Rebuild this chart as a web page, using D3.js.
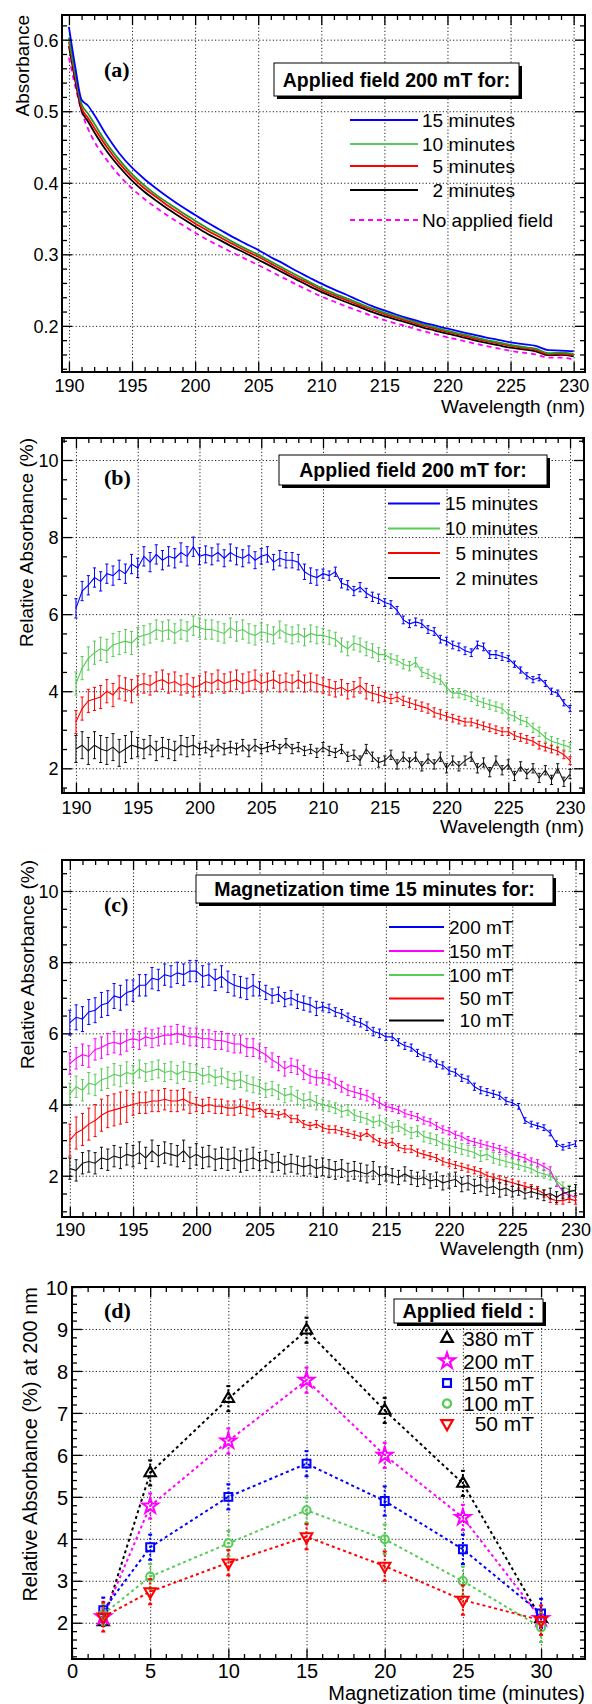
<!DOCTYPE html>
<html>
<head>
<meta charset="utf-8">
<script src="https://cdnjs.cloudflare.com/ajax/libs/d3/7.8.5/d3.min.js"></script>
<style>
body{margin:0;background:#fff;}
text{font-family:"Liberation Sans",Arial,Helvetica,sans-serif;fill:#000;}
</style>
</head>
<body>
<div id="chart"></div>
<script>
// ---- panel (a): absorbance
var wlA = [190,190.5,191,191.5,192,193,194,195,196,197,198,199,200,201,202,203,204,205,206,207,
           208,209,210,211,212,213,214,215,216,217,218,219,220,221,222,223,224,225,226,227,228,229,230];
var absNone = [.575,.535,.500,.476,.458, .432,.410,.392,.377,.364,.352,.341,.330,.320,.311,
               .302,.2935,.285,.276,.267,.258,.2495,.241,.234,.227, .2205,.214,.208,.203,.198,.193,.1885,.184,.180,.176,
               .172,.1685,.165,.1625,.160,.1555,.1555,.153];
var abs15 = [.618,.562,.516,.508,.495, .466,.441,.421,.405,.391,.378,.366,.355,.344,.334,
             .324,.315,.306,.296,.287,.277,.268,.259,.251,.2435, .2355,.228,.2215,.2155,.210,.205,.2005,.196,.192,.188,
             .184,.1805,.177,.1745,.172,.166,.1655,.1645];
var abs10 = [.603,.553,.510,.497,.483, .455,.432,.412,.396,.382,.370,.358,.347,.336,.327,
             .317,.308,.2995,.290,.2805,.271,.262,.253,.2455,.2385, .2315,.2245,.2185,.213,.208,.2025,.198,.193,.189,.185,
             .1805,.177,.1735,.1705,.168,.162,.1625,.1605];
var abs5 = [.597,.548,.505,.491,.477, .450,.427,.408,.392,.379,.366,.3545,.343,.333,.3235,
            .314,.305,.2965,.287,.2775,.268,.2595,.2505,.243,.236, .229,.2225,.2165,.211,.206,.2005,.196,.1915,.1875,.183,
            .179,.1755,.172,.169,.1665,.1605,.161,.159];
var abs2 = [.591,.543,.501,.486,.471, .444,.422,.403,.387,.374,.3615,.350,.339,.3285,.3195,
            .310,.3015,.2925,.2835,.274,.265,.256,.2475,.240,.233, .2265,.2195,.2135,.2085,.2035,.198,.1935,.189,.185,.1805,
            .1765,.173,.1695,.167,.1645,.159,.1595,.1575];

// ---- panels (b) and (c): relative absorbance (%)
var wlBC = [190,190.5,191,191.5,192,192.5,193,193.5,194,194.5,
            195,195.5,196,196.5,197,197.5,198,198.5,199,199.5,
            200,200.5,201,201.5,202,202.5,203,203.5,204,204.5,
            205,205.5,206,206.5,207,207.5,208,208.5,209,209.5,
            210,210.5,211,211.5,212,212.5,213,213.5,214,214.5,
            215,215.5,216,216.5,217,217.5,218,218.5,219,219.5,
            220,220.5,221,221.5,222,222.5,223,223.5,224,224.5,
            225,225.5,226,226.5,227,227.5,228,228.5,229,229.5,
            230];
var rel15 = [6.15,6.6,6.75,6.95,6.85,7.05,7.0,7.15,7.05,7.3,
             7.2,7.5,7.35,7.55,7.4,7.5,7.45,7.6,7.5,7.75,
             7.5,7.55,7.5,7.6,7.45,7.6,7.5,7.45,7.55,7.4,
             7.5,7.55,7.35,7.45,7.4,7.4,7.35,7.1,7.0,6.95,
             7.05,7.0,7.1,6.8,6.75,6.6,6.7,6.55,6.45,6.4,
             6.3,6.25,6.1,5.85,5.75,5.8,5.75,5.6,5.55,5.35,
             5.3,5.2,5.15,5.05,5.0,5.2,5.15,4.95,4.95,4.9,
             4.85,4.7,4.55,4.4,4.3,4.35,4.2,4.0,3.95,3.7,
             3.55];
var rel10 = [4.2,4.6,4.85,5.0,5.1,5.05,5.2,5.25,5.3,5.25,
             5.4,5.45,5.5,5.6,5.55,5.6,5.5,5.6,5.55,5.7,
             5.65,5.6,5.6,5.55,5.5,5.65,5.55,5.6,5.5,5.45,
             5.55,5.5,5.45,5.6,5.5,5.45,5.5,5.4,5.5,5.45,
             5.45,5.4,5.35,5.2,5.1,5.25,5.2,5.1,5.05,4.95,
             4.95,4.85,4.8,4.7,4.65,4.75,4.5,4.45,4.35,4.3,
             4.1,3.95,3.95,3.9,3.85,3.75,3.7,3.65,3.6,3.55,
             3.4,3.35,3.25,3.2,3.05,2.95,2.8,2.7,2.65,2.6,
             2.55];
var rel5 = [3.2,3.55,3.75,3.8,3.85,4.0,3.9,4.1,4.05,4.0,
            4.15,4.2,4.15,4.25,4.3,4.2,4.25,4.15,4.2,4.1,
            4.15,4.25,4.2,4.3,4.2,4.25,4.3,4.2,4.25,4.3,
            4.2,4.25,4.3,4.2,4.25,4.2,4.3,4.2,4.25,4.2,
            4.15,4.1,4.05,4.1,4.0,4.05,4.15,4.0,3.95,3.9,
            3.85,3.8,3.85,3.75,3.7,3.65,3.6,3.55,3.45,3.4,
            3.35,3.3,3.25,3.2,3.2,3.15,3.1,3.05,3.0,2.95,
            2.95,2.85,2.8,2.75,2.7,2.6,2.55,2.5,2.45,2.35,
            2.2];
var rel2 = [2.5,2.6,2.45,2.6,2.5,2.45,2.55,2.4,2.5,2.6,
            2.55,2.5,2.6,2.45,2.55,2.5,2.45,2.6,2.55,2.6,
            2.5,2.55,2.45,2.6,2.5,2.55,2.5,2.6,2.45,2.6,
            2.5,2.55,2.6,2.5,2.65,2.5,2.55,2.45,2.5,2.4,
            2.55,2.45,2.4,2.5,2.3,2.35,2.2,2.5,2.3,2.15,
            2.2,2.35,2.1,2.3,2.15,2.3,2.05,2.25,2.1,2.3,
            2.0,2.2,2.05,2.2,2.3,2.0,2.15,1.9,2.2,1.95,
            2.1,1.8,2.05,1.85,2.0,1.75,1.95,1.7,2.0,1.65,
            1.85];
// error half-widths, one per 5 nm band (190-195, ..., 225-230)
var err15 = [0.25,0.25,0.22,0.2,0.12,0.1,0.1,0.08];
var err10 = [0.3,0.25,0.25,0.22,0.18,0.12,0.12,0.12];
var err5 = [0.3,0.25,0.25,0.22,0.2,0.12,0.1,0.1];
var err2 = [0.35,0.25,0.15,0.12,0.12,0.12,0.12,0.12];

var rel200 = [6.3,6.45,6.4,6.6,6.65,6.8,6.85,7.05,7.0,7.15,
              7.2,7.35,7.35,7.55,7.5,7.65,7.6,7.7,7.65,7.75,
              7.75,7.6,7.65,7.5,7.6,7.45,7.35,7.3,7.25,7.35,
              7.25,7.15,7.05,7.1,6.95,7.0,6.9,6.85,6.8,6.7,
              6.75,6.7,6.6,6.55,6.45,6.35,6.3,6.2,6.05,6.0,
              5.9,5.9,5.75,5.65,5.6,5.45,5.35,5.3,5.15,5.1,
              4.95,4.9,4.75,4.7,4.5,4.4,4.35,4.3,4.25,4.1,
              4.05,3.95,3.55,3.45,3.4,3.35,3.2,2.9,2.8,2.85,
              2.9];
var rel150 = [5.15,5.3,5.4,5.35,5.55,5.6,5.7,5.75,5.7,5.8,
              5.85,5.8,5.9,5.85,5.9,5.95,5.95,6.0,5.95,5.9,
              5.9,5.85,5.85,5.8,5.8,5.75,5.7,5.7,5.6,5.6,
              5.5,5.4,5.25,5.15,5.0,5.1,5.05,4.9,4.8,4.75,
              4.75,4.7,4.6,4.5,4.4,4.35,4.3,4.25,4.15,4.05,
              3.95,3.9,3.85,3.75,3.7,3.65,3.55,3.5,3.4,3.3,
              3.25,3.15,3.1,3.0,2.95,2.9,2.85,2.8,2.75,2.7,
              2.6,2.55,2.5,2.4,2.35,2.25,2.15,1.8,1.55,1.45,
              1.4];
var rel100 = [4.3,4.5,4.4,4.6,4.55,4.7,4.75,4.85,4.8,4.9,
              4.85,5.0,4.9,4.95,5.0,4.9,4.95,4.85,4.95,4.9,
              4.9,4.8,4.85,4.75,4.8,4.7,4.65,4.7,4.6,4.55,
              4.5,4.4,4.45,4.35,4.25,4.3,4.2,4.1,4.15,4.05,
              4.0,3.95,3.9,3.8,3.85,3.7,3.65,3.6,3.5,3.55,
              3.45,3.35,3.4,3.3,3.2,3.25,3.1,3.05,3.0,2.9,
              2.85,2.8,2.75,2.7,2.65,2.55,2.6,2.5,2.45,2.4,
              2.35,2.3,2.25,2.2,2.1,2.05,2.0,1.85,1.7,1.6,
              1.55];
var rel50 = [3.0,3.2,3.3,3.45,3.55,3.7,3.8,3.85,3.9,3.95,
             4.0,4.05,4.05,4.1,4.1,4.15,4.1,4.1,4.15,4.05,
             4.0,3.95,4.0,3.95,3.95,3.9,3.9,3.95,3.9,3.85,
             3.9,3.75,3.75,3.7,3.75,3.6,3.6,3.45,3.4,3.45,
             3.35,3.3,3.3,3.25,3.2,3.15,3.1,3.2,3.05,2.95,
             2.9,2.95,2.8,2.75,2.75,2.65,2.6,2.55,2.5,2.4,
             2.35,2.3,2.25,2.2,2.15,2.1,2.0,1.95,1.9,1.85,
             1.8,1.75,1.7,1.65,1.6,1.5,1.35,1.3,1.3,1.35,
             1.3];
var rel10mT = [2.2,2.15,2.35,2.4,2.35,2.5,2.45,2.55,2.5,2.6,
               2.55,2.65,2.5,2.7,2.55,2.65,2.6,2.55,2.7,2.5,
               2.6,2.5,2.55,2.45,2.5,2.45,2.5,2.4,2.45,2.5,
               2.4,2.45,2.35,2.4,2.3,2.35,2.3,2.25,2.3,2.2,
               2.25,2.2,2.15,2.2,2.1,2.15,2.1,2.05,2.15,2.0,
               2.05,2.0,1.95,2.05,1.95,1.9,1.95,1.85,1.9,1.8,
               1.85,1.9,1.75,1.8,1.7,1.75,1.65,1.7,1.6,1.65,
               1.55,1.6,1.5,1.55,1.5,1.45,1.5,1.4,1.5,1.55,
               1.6];
var err200 = [0.35,0.3,0.3,0.2,0.12,0.1,0.1,0.08];
var err150 = [0.3,0.25,0.25,0.2,0.15,0.1,0.1,0.1];
var err100 = [0.3,0.25,0.22,0.2,0.15,0.15,0.15,0.12];
var err50 = [0.45,0.3,0.2,0.1,0.1,0.1,0.1,0.1];
var err10mT = [0.3,0.3,0.3,0.25,0.25,0.2,0.2,0.15];

// ---- panel (d): relative absorbance at 200 nm vs magnetization time
var minutes = [2,5,10,15,20,25,30];
var d380 = [2.02,5.57,7.34,8.97,7.06,5.32,2.1];
var d200 = [2.14,4.78,6.33,7.78,5.99,4.51,2.1];
var d150 = [2.3,3.8,5.0,5.79,4.9,3.75,2.22];
var d100 = [2.2,3.1,3.89,4.68,3.99,2.99,1.89];
var d50 = [2.14,2.74,3.43,4.05,3.35,2.54,2.06];
var e380 = [0.1,0.3,0.3,0.3,0.3,0.3,0.2];
var e200 = [0.2,0.3,0.3,0.3,0.3,0.3,0.2];
var e150 = [0.3,0.3,0.3,0.3,0.35,0.35,0.35];
var e100 = [0.25,0.3,0.3,0.3,0.35,0.35,0.35];
var e50 = [0.35,0.3,0.3,0.3,0.35,0.35,0.35];

// tick labels
var wlTicks = [190,195,200,205,210,215,220,225,230];
var absTicks = [0.2,0.3,0.4,0.5,0.6];
var relTicks = [2,4,6,8,10];
var minTicks = [0,5,10,15,20,25,30];
var relDTicks = [2,3,4,5,6,7,8,9,10];

var GREEN = "#55cc55";

var svg = d3.select("#chart").append("svg")
	.attr("width",592).attr("height",1704)
	.style("background","#fff");

function makePanel(c){
	var p = {};
	p.x = d3.scaleLinear().domain(c.xd).range([c.l, c.r]);
	p.y = d3.scaleLinear().domain(c.yd).range([c.b, c.t]);
	p.back = svg.append("g");
	p.data = svg.append("g");
	p.front = svg.append("g");
	var h = c.b - c.t, w = c.r - c.l;

	function clean(sel){
		sel.select(".domain").remove();
		sel.attr("font-family",null).attr("font-size",null);
	}
	// dotted grid at major ticks
	p.back.append("g").attr("transform","translate(0,"+c.b+")")
		.call(d3.axisBottom(p.x).tickValues(c.xMajor).tickSize(-h).tickFormat(""))
		.call(clean)
		.selectAll("line").attr("stroke","#222").attr("stroke-width",1).attr("stroke-dasharray","1.2,2.2");
	p.back.append("g").attr("transform","translate("+c.l+",0)")
		.call(d3.axisLeft(p.y).tickValues(c.yMajor).tickSize(-w).tickFormat(""))
		.call(clean)
		.selectAll("line").attr("stroke","#222").attr("stroke-width",1).attr("stroke-dasharray","1.2,2.2");

	// ticks, all four sides, pointing inwards
	var axes = [
		{f:d3.axisBottom, s:p.x, tr:"translate(0,"+c.b+")"},
		{f:d3.axisTop, s:p.x, tr:"translate(0,"+c.t+")"},
		{f:d3.axisLeft, s:p.y, tr:"translate("+c.l+",0)"},
		{f:d3.axisRight, s:p.y, tr:"translate("+c.r+",0)"}
	];
	axes.forEach(function(a,i){
		var major = i < 2 ? c.xMajor : c.yMajor;
		var minor = i < 2 ? c.xMinor : c.yMinor;
		p.front.append("g").attr("transform",a.tr)
			.call(a.f(a.s).tickValues(minor).tickSize(-5).tickFormat(""))
			.call(clean)
			.selectAll("line").attr("stroke","#000").attr("stroke-width",1.3);
		var g = p.front.append("g").attr("transform",a.tr)
			.call(a.f(a.s).tickValues(major).tickSize(-10).tickFormat(i==0 ? c.xFmt : (i==2 ? c.yFmt : "")))
			.call(clean);
		g.selectAll("line").attr("stroke","#000").attr("stroke-width",1.3);
		if (i==0){
			g.selectAll("text").attr("y",c.xLabDy).attr("dy",null).style("font-size",c.tickFs+"px");
		} else if (i==2){
			g.selectAll("text").attr("x",-c.yLabGap).attr("dy","0.36em").style("font-size",c.tickFs+"px");
		}
	});

	p.front.append("rect").attr("x",c.l).attr("y",c.t).attr("width",w).attr("height",h)
		.attr("fill","none").attr("stroke","#000").attr("stroke-width",2);

	// axis titles
	p.front.append("text").attr("x",c.r).attr("y",c.xTitleY).attr("text-anchor","end")
		.style("font-size",c.titleFs+"px").text(c.xTitle);
	p.front.append("text").attr("transform","translate("+c.yTitleX+","+c.t+") rotate(-90)")
		.attr("text-anchor","end").style("font-size",c.titleFs+"px").text(c.yTitle);
	// panel tag
	p.front.append("text").attr("x",c.tagX).attr("y",c.tagY)
		.style("font-family","'Liberation Serif','Times New Roman',serif").style("font-weight","bold")
		.style("font-size","22px").text(c.tag);
	return p;
}

function legendTitle(p, box, txt, fs){
	p.front.append("rect").attr("x",box[0]+3).attr("y",box[1]+3).attr("width",box[2]-box[0]).attr("height",box[3]-box[1])
		.attr("fill","#000");
	p.front.append("rect").attr("x",box[0]).attr("y",box[1]).attr("width",box[2]-box[0]).attr("height",box[3]-box[1])
		.attr("fill","#fff").attr("stroke","#000").attr("stroke-width",1);
	p.front.append("text").attr("x",(box[0]+box[2])/2).attr("y",(box[1]+box[3])/2).attr("dy","0.36em")
		.attr("text-anchor","middle").style("font-weight","bold").style("font-size",fs+"px").text(txt);
}

function lineLegend(p, entries, x1, x2, tx, fs){
	entries.forEach(function(e){
		p.front.append("line").attr("x1",x1).attr("x2",x2).attr("y1",e.y).attr("y2",e.y)
			.attr("stroke",e.color).attr("stroke-width",e.dash ? 1.8 : 2)
			.attr("stroke-dasharray",e.dash ? "5,4" : null);
		p.front.append("text").attr("x",tx).attr("y",e.y).attr("dy","0.36em")
			.style("font-size",fs+"px").text(e.label);
	});
}

function errorSeries(p, xs, ys, errs, color){
	var pts = xs.map(function(x,i){
		var band = Math.min(errs.length-1, Math.floor((x-190)/5));
		return {x:x, y:ys[i], e:errs[band]};
	});
	var g = p.data.append("g");
	g.selectAll(".eb").data(pts).enter().append("line")
		.attr("x1",function(d){return p.x(d.x);}).attr("x2",function(d){return p.x(d.x);})
		.attr("y1",function(d){return p.y(d.y-d.e);}).attr("y2",function(d){return p.y(d.y+d.e);})
		.attr("stroke",color).attr("stroke-width",1);
	[-1,1].forEach(function(sg){
		g.selectAll(".cap"+sg).data(pts).enter().append("line")
			.attr("x1",function(d){return p.x(d.x)-1.6;}).attr("x2",function(d){return p.x(d.x)+1.6;})
			.attr("y1",function(d){return p.y(d.y+sg*d.e);}).attr("y2",function(d){return p.y(d.y+sg*d.e);})
			.attr("stroke",color).attr("stroke-width",1);
	});
	g.append("path").datum(pts)
		.attr("d",d3.line().x(function(d){return p.x(d.x);}).y(function(d){return p.y(d.y);}))
		.attr("fill","none").attr("stroke",color).attr("stroke-width",1.1);
}

// ---------- (a)
var cA = {l:62,r:585,t:15,b:372, xd:[189.45,230.9], yd:[0.1355,0.6345],
	xMajor:wlTicks, xMinor:d3.range(190,231,1).filter(function(v){return v%5;}),
	yMajor:absTicks, yMinor:d3.range(14,64,2).map(function(v){return v/100;}).filter(function(v){return Math.round(v*100)%10;}),
	xFmt:d3.format("d"), yFmt:d3.format(".1f"), tickFs:18, xLabDy:19.5, yLabGap:3.5,
	titleFs:19, xTitle:"Wavelength (nm)", xTitleY:412.5, yTitle:"Absorbance", yTitleX:28.5,
	tag:"(a)", tagX:104, tagY:77};
var pA = makePanel(cA);
var lineA = d3.line().curve(d3.curveMonotoneX).x(function(d){return pA.x(d[0]);}).y(function(d){return pA.y(d[1]);});
[[absNone,"#ff00ff",true],[abs2,"#000000"],[abs5,"#ff0000"],[abs10,"#1f9a1f"],[abs15,"#0000ff"]].forEach(function(s){
	pA.data.append("path").datum(wlA.map(function(w,i){return [w,s[0][i]];}))
		.attr("d",lineA).attr("fill","none").attr("stroke",s[1]).attr("stroke-width",1.8)
		.attr("stroke-dasharray",s[2] ? "5,4" : null);
});
legendTitle(pA,[274,63,519,96],"Applied field 200 mT for:",19.5);
lineLegend(pA,[
	{y:120,color:"#0000ff",label:"15 minutes"},
	{y:144,color:GREEN,label:"10 minutes"},
	{y:166,color:"#ff0000",label:"\u20075 minutes"},
	{y:190,color:"#000000",label:"\u20072 minutes"},
	{y:220,color:"#ff00ff",label:"No applied field",dash:true}
],350,418,422,19);

// ---------- (b)
var cB = {l:62,r:584,t:438,b:793, xd:[188.87,231.13], yd:[1.359,10.571],
	xMajor:wlTicks, xMinor:d3.range(189,232,1).filter(function(v){return v%5;}),
	yMajor:relTicks, yMinor:d3.range(1.5,10.6,0.5).filter(function(v){return v%2;}),
	xFmt:d3.format("d"), yFmt:d3.format("d"), tickFs:18, xLabDy:21, yLabGap:3.5,
	titleFs:19, xTitle:"Wavelength (nm)", xTitleY:832.5, yTitle:"Relative Absorbance (%)", yTitleX:33,
	tag:"(b)", tagX:104, tagY:485};
var pB = makePanel(cB);
errorSeries(pB, wlBC, rel15, err15, "#0000ff");
errorSeries(pB, wlBC, rel10, err10, GREEN);
errorSeries(pB, wlBC, rel5, err5, "#ff0000");
errorSeries(pB, wlBC, rel2, err2, "#111111");
legendTitle(pB,[279,455,547,485],"Applied field 200 mT for:",19.5);
lineLegend(pB,[
	{y:503.5,color:"#0000ff",label:"15 minutes"},
	{y:528.5,color:GREEN,label:"10 minutes"},
	{y:553,color:"#ff0000",label:"\u20075 minutes"},
	{y:578,color:"#000000",label:"\u20072 minutes"}
],388,440,445,19);

// ---------- (c)
var cC = {l:62,r:584,t:860,b:1217, xd:[189.38,230.67], yd:[0.84,10.871],
	xMajor:wlTicks, xMinor:d3.range(190,231,1).filter(function(v){return v%5;}),
	yMajor:relTicks, yMinor:d3.range(1,10.9,0.5).filter(function(v){return v%2;}),
	xFmt:d3.format("d"), yFmt:d3.format("d"), tickFs:18, xLabDy:19, yLabGap:3.5,
	titleFs:19, xTitle:"Wavelength (nm)", xTitleY:1255, yTitle:"Relative Absorbance (%)", yTitleX:34,
	tag:"(c)", tagX:104, tagY:912};
var pC = makePanel(cC);
errorSeries(pC, wlBC, rel200, err200, "#0000ff");
errorSeries(pC, wlBC, rel150, err150, "#ff00ff");
errorSeries(pC, wlBC, rel100, err100, GREEN);
errorSeries(pC, wlBC, rel50, err50, "#ff0000");
errorSeries(pC, wlBC, rel10mT, err10mT, "#111111");
legendTitle(pC,[196,875,553,903],"Magnetization time 15 minutes for:",19.5);
lineLegend(pC,[
	{y:927,color:"#0000ff",label:"200 mT"},
	{y:951,color:"#ff00ff",label:"150 mT"},
	{y:975,color:GREEN,label:"100 mT"},
	{y:998.5,color:"#ff0000",label:"\u200750 mT"},
	{y:1020.5,color:"#000000",label:"\u200710 mT"}
],389,444,449,19);

// ---------- (d)
var cD = {l:72,r:585,t:1287,b:1659, xd:[0,32.81], yd:[1.136,10],
	xMajor:minTicks, xMinor:d3.range(1,33,1).filter(function(v){return v%5;}),
	yMajor:relDTicks, yMinor:d3.range(12,100,2).map(function(v){return v/10;}).filter(function(v){return Math.round(v*10)%10;}),
	xFmt:d3.format("d"), yFmt:d3.format("d"), tickFs:20, xLabDy:18.5, yLabGap:4,
	titleFs:20, xTitle:"Magnetization time (minutes)", xTitleY:1700, yTitle:"Relative Absorbance (%) at 200 nm", yTitleX:37,
	tag:"(d)", tagX:104, tagY:1318};
var pD = makePanel(cD);

var triUp = d3.symbol().type(d3.symbolTriangle).size(58);
var star = d3.symbol().type(d3.symbolStar).size(75);
var square = d3.symbol().type(d3.symbolSquare).size(62);
var circle = d3.symbol().type(d3.symbolCircle).size(52);

var dSeries = [
	{v:d380, e:e380, color:"#000000", sym:triUp, rot:0, label:"380 mT"},
	{v:d200, e:e200, color:"#ff00ff", sym:star, rot:0, label:"200 mT"},
	{v:d150, e:e150, color:"#0000ff", sym:square, rot:0, label:"150 mT"},
	{v:d100, e:e100, color:GREEN, sym:circle, rot:0, label:"100 mT"},
	{v:d50, e:e50, color:"#ff0000", sym:triUp, rot:180, label:"\u200750 mT"}
];
var lineD = d3.line().x(function(d){return pD.x(d[0]);}).y(function(d){return pD.y(d[1]);});
dSeries.forEach(function(s){
	var pts = minutes.map(function(m,i){return {x:m, y:s.v[i], e:s.e[i]};});
	var g = pD.data.append("g");
	g.append("path").datum(pts.map(function(d){return [d.x,d.y];}))
		.attr("d",lineD).attr("fill","none").attr("stroke",s.color).attr("stroke-width",2)
		.attr("stroke-dasharray","3,3");
	g.selectAll(".eb").data(pts).enter().append("line")
		.attr("x1",function(d){return pD.x(d.x);}).attr("x2",function(d){return pD.x(d.x);})
		.attr("y1",function(d){return pD.y(d.y-d.e);}).attr("y2",function(d){return pD.y(d.y+d.e);})
		.attr("stroke",s.color).attr("stroke-width",2).attr("stroke-dasharray","2,2");
	[-1,1].forEach(function(sg){
		g.selectAll(".cap"+sg).data(pts).enter().append("line")
			.attr("x1",function(d){return pD.x(d.x)-2;}).attr("x2",function(d){return pD.x(d.x)+2;})
			.attr("y1",function(d){return pD.y(d.y+sg*d.e);}).attr("y2",function(d){return pD.y(d.y+sg*d.e);})
			.attr("stroke",s.color).attr("stroke-width",2);
	});
	s.g = g;
});
dSeries.forEach(function(s){
	s.g.selectAll(".mk").data(minutes.map(function(m,i){return [m,s.v[i]];})).enter().append("path")
		.attr("d",s.sym)
		.attr("transform",function(d){return "translate("+pD.x(d[0])+","+pD.y(d[1])+") rotate("+s.rot+")";})
		.attr("fill","none").attr("stroke",s.color).attr("stroke-width",2);
});
legendTitle(pD,[394,1299,543,1323],"Applied field :",20);
var legY = [1338.5,1361,1383,1403.5,1423.5];
dSeries.forEach(function(s,i){
	pD.front.append("path").attr("d",s.sym)
		.attr("transform","translate(447,"+legY[i]+") rotate("+s.rot+")")
		.attr("fill","none").attr("stroke",s.color).attr("stroke-width",2.2);
	pD.front.append("text").attr("x",463).attr("y",legY[i]).attr("dy","0.36em")
		.style("font-size","21px").text(s.label);
});
</script>
</body>
</html>
